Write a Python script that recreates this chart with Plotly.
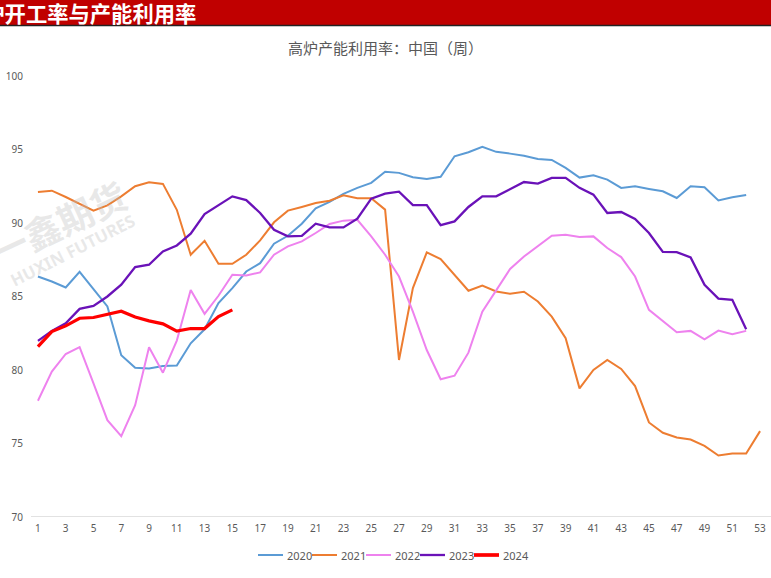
import plotly.graph_objects as go

weeks = list(range(1, 54))

y2020 = [86.36, 86.02, 85.61, 86.68, 85.5, 84.32, 81.0, 80.16, 80.11, 80.27,
         80.3, 81.82, 82.77, 84.55, 85.57, 86.7, 87.27, 88.59, 89.13, 89.95,
         91.0, 91.43, 91.98, 92.39, 92.73, 93.48, 93.41, 93.11, 93.0, 93.14,
         94.54, 94.81, 95.18, 94.84, 94.72, 94.58, 94.36, 94.29, 93.75, 93.09,
         93.25, 92.95, 92.39, 92.5, 92.32, 92.16, 91.7, 92.5, 92.43, 91.54,
         91.75, 91.91, None]
y2021 = [92.11, 92.2, 91.77, 91.3, 90.84, 91.2, 91.81, 92.5, 92.77, 92.66,
         90.9, 87.84, 88.79, 87.23, 87.23, 87.84, 88.82, 90.05, 90.84, 91.09,
         91.36, 91.52, 91.88, 91.68, 91.68, 90.91, 80.68, 85.57, 88.0, 87.55,
         86.48, 85.39, 85.75, 85.34, 85.18, 85.32, 84.66, 83.63, 82.16, 78.75,
         80.0, 80.68, 80.07, 78.91, 76.43, 75.73, 75.41, 75.27, 74.84, 74.18,
         74.32, 74.32, 75.84]
y2022 = [77.91, 79.89, 81.09, 81.55, 79.09, 76.59, 75.5, 77.61, 81.55, 79.82,
         82.0, 85.45, 83.82, 85.05, 86.48, 86.43, 86.64, 87.84, 88.41, 88.75,
         89.32, 89.93, 90.16, 90.22, 89.09, 87.84, 86.36, 83.97, 81.36, 79.37,
         79.61, 81.18, 83.97, 85.45, 86.87, 87.72, 88.41, 89.13, 89.2, 89.05,
         89.09, 88.3, 87.68, 86.36, 84.09, 83.36, 82.57, 82.66, 82.09, 82.68,
         82.43, 82.66, None]
y2023 = [81.98, 82.66, 83.18, 84.16, 84.36, 85.0, 85.8, 87.0, 87.16, 88.07,
         88.47, 89.27, 90.61, 91.2, 91.81, 91.56, 90.68, 89.54, 89.09, 89.13,
         89.95, 89.7, 89.7, 90.29, 91.66, 92.0, 92.13, 91.22, 91.22, 89.86,
         90.11, 91.09, 91.81, 91.81, 92.3, 92.79, 92.68, 93.07, 93.07, 92.39,
         91.93, 90.68, 90.75, 90.27, 89.32, 88.04, 88.02, 87.66, 85.8, 84.86,
         84.77, 82.77, None]
y2024 = [81.59, 82.61, 83.0, 83.52, 83.57, 83.8, 84.0, 83.6, 83.34, 83.14,
         82.64, 82.82, 82.82, 83.63, 84.09]

series_names = ["2020", "2021", "2022", "2023", "2024"]
series_values = [y2020, y2021, y2022, y2023, y2024]
colors = ["#5B9BD5", "#ED7D31", "#EE82EE", "#6A12B8", "#FF0000"]
widths = [2, 2, 2, 2.3, 3.2]

y_ticks = [70, 75, 80, 85, 90, 95, 100]
x_ticks = list(range(1, 54, 2))

fig = go.Figure()
for name, vals, c, w in zip(series_names, series_values, colors, widths):
    fig.add_trace(go.Scatter(
        x=weeks[:len(vals)], y=vals, mode="lines", name=name,
        line=dict(color=c, width=w), connectgaps=False, showlegend=False,
    ))

W, H = 771, 578
L, R, T, B = 31, 4, 76, 61
pw, ph = W - L - R, H - T - B


def px_x(px):
    return (px - L) / pw


def px_y(py):
    return (H - B - py) / ph


fig.update_layout(
    width=W, height=H, autosize=False,
    margin=dict(l=L, r=R, t=T, b=B, pad=0),
    paper_bgcolor="white", plot_bgcolor="white",
    font=dict(family="Noto Sans CJK SC, Noto Sans, sans-serif", color="#595959"),
    showlegend=False,
    xaxis=dict(
        range=[0.5, 53.5], tickmode="array", tickvals=x_ticks,
        ticktext=[str(t) for t in x_ticks], showgrid=False, zeroline=False,
        showline=False, ticks="", tickfont=dict(size=10, color="#595959",
                                                 family="Noto Sans, sans-serif"),
        ticklabelstandoff=4,
    ),
    yaxis=dict(
        range=[70, 100], tickmode="array", tickvals=y_ticks,
        showgrid=False, zeroline=False, showline=False, ticks="",
        tickfont=dict(size=10, color="#595959", family="Noto Sans, sans-serif"),
        ticklabelstandoff=7,
    ),
)

# x axis baseline
fig.add_shape(type="line", xref="paper", yref="y", x0=0, x1=1.01, y0=70, y1=70,
              line=dict(color="#D9D9D9", width=1.5), layer="below")

# Manual legend (line sample + label per series)
leg_x0, leg_step, leg_y = 258, 54, 555
for i, (name, c, w) in enumerate(zip(series_names, colors, widths)):
    x0 = leg_x0 + i * leg_step
    fig.add_shape(type="line", xref="paper", yref="paper",
                  x0=px_x(x0), x1=px_x(x0 + 25), y0=px_y(leg_y), y1=px_y(leg_y),
                  line=dict(color=c, width=w + (0.5 if i == 4 else 0)))
    fig.add_annotation(text=name, xref="paper", yref="paper",
                       x=px_x(x0 + 27), y=px_y(leg_y), xanchor="left",
                       yanchor="middle", showarrow=False,
                       font=dict(size=11, color="#595959",
                                 family="Noto Sans, sans-serif"))

# Header bar
fig.add_shape(type="rect", xref="paper", yref="paper",
              x0=px_x(-5), x1=px_x(W + 5), y0=px_y(25), y1=px_y(-5),
              fillcolor="#C00000", line=dict(width=0), layer="above")
fig.add_shape(type="line", xref="paper", yref="paper",
              x0=px_x(-5), x1=px_x(W + 5), y0=px_y(25.5), y1=px_y(25.5),
              line=dict(color="#222222", width=1.5))
fig.add_annotation(text="<b>高炉开工率与产能利用率</b>", xref="paper", yref="paper",
                   x=px_x(198), y=px_y(12.5), xanchor="right", yanchor="middle",
                   showarrow=False,
                   font=dict(size=21.3, color="white", family="Noto Sans CJK SC"))

# Chart title
fig.add_annotation(text="高炉产能利用率：中国（周）", xref="paper", yref="paper",
                   x=px_x(385), y=px_y(47), xanchor="center", yanchor="middle",
                   showarrow=False,
                   font=dict(size=15, color="#595959", family="Noto Sans CJK SC"))

# Watermark
fig.add_annotation(text="<b>一鑫期货</b>", xref="paper", yref="paper",
                   x=px_x(58), y=px_y(222), xanchor="center", yanchor="middle",
                   showarrow=False, textangle=-25,
                   font=dict(size=36, color="rgba(190,190,190,0.35)",
                             family="Noto Sans CJK SC"))
fig.add_annotation(text="<b>HUXIN FUTURES</b>", xref="paper", yref="paper",
                   x=px_x(72), y=px_y(250), xanchor="center", yanchor="middle",
                   showarrow=False, textangle=-27,
                   font=dict(size=17, color="rgba(190,190,190,0.35)",
                             family="Noto Sans, sans-serif"))

fig.write_html("out.html",
               config={"displayModeBar": False},
               post_script="document.body.style.margin='0px';"
                           "document.body.style.overflow='hidden';")
